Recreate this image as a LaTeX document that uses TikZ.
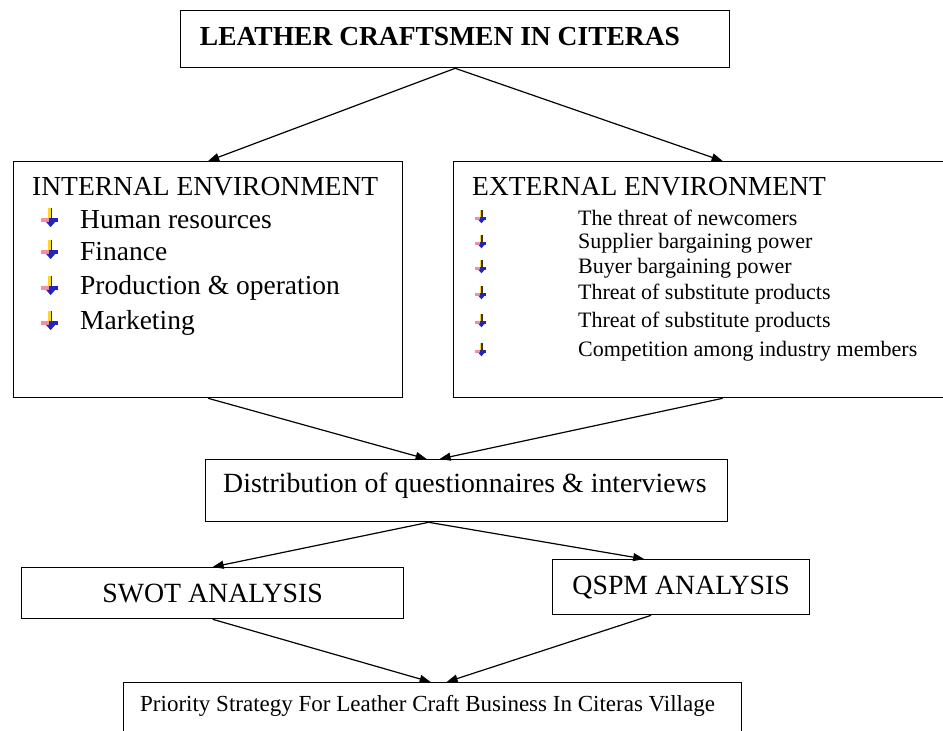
\documentclass[tikz,border=0pt]{standalone}
\usepackage{fontspec}
\setmainfont{Liberation Serif}
\usetikzlibrary{positioning, arrows.meta}
\definecolor{markyellow}{RGB}{250, 215, 40}
\definecolor{markred}{RGB}{240, 95, 110}
\definecolor{markblue}{RGB}{35, 35, 190}
\tikzset{
    flowbox/.style={draw, line width=1.3pt, inner sep=0pt, anchor=north west},
    flowarrow/.style={-{Triangle[length=11pt, width=8pt]}, line width=1.2pt},
    boxtext/.style={inner sep=0pt, font=\fontsize{27.8}{28}\selectfont},
    listtext/.style={anchor=west, inner sep=0pt, font=\fontsize{27.5}{28}\selectfont},
    smalltext/.style={anchor=west, inner sep=0pt, font=\fontsize{22}{22}\selectfont},
    listmark/.pic={
        \fill[markred!70] (-7,0) rectangle (-1,3);
        \fill[markblue] (-1,0) rectangle (6,3);
        \fill[markblue] (-3,3) -- (4,3) -- (0.5,7) -- cycle;
        \fill[markyellow] (-1.5,-8) rectangle (0.5,0);
        \fill[black!80] (0.5,-8) rectangle (1.8,1);
    }
}

\begin{document}
\begin{tikzpicture}[x=1pt, y=-1pt]
    \useasboundingbox (0,0) rectangle (943,731);
    % boxes
    \node[flowbox, minimum width=549pt, minimum height=57pt] (top) at (180,10) {};
    \node[flowbox, minimum width=389pt, minimum height=236pt] (internal) at (13,161) {};
    \node[flowbox, minimum width=538pt, minimum height=236pt] (external) at (453,161) {};
    \node[flowbox, minimum width=522pt, minimum height=62pt] (dist) at (205,459) {};
    \node[flowbox, minimum width=382pt, minimum height=51pt] (swot) at (21,567) {};
    \node[flowbox, minimum width=257pt, minimum height=55pt] (qspm) at (552,559) {};
    \node[flowbox, minimum width=618pt, minimum height=65pt] (priority) at (123,682) {};

    % texts
    \node[boxtext, font=\fontsize{27.5}{28}\selectfont\bfseries] (toptext) at (440,37) {LEATHER CRAFTSMEN IN CITERAS};
    \node[listtext] (inttitle) at (32,187) {INTERNAL ENVIRONMENT};
    \node[listtext] (exttitle) at (472,187) {EXTERNAL ENVIRONMENT};
    \node[listtext] (int1) at (80,220) {Human resources};
    \node[listtext] (int2) at (80,252) {Finance};
    \node[listtext] (int3) at (80,288) {Production \& operation};
    \node[listtext] (int4) at (80,323) {Marketing};
    \foreach \y in {218,250,286,321}
        \pic[scale=1.3] at (50,\y) {listmark};
    \node[smalltext] (ext1) at (578,218) {The threat  of newcomers};
    \node[smalltext] (ext2) at (578,243) {Supplier bargaining power};
    \node[smalltext] (ext3) at (578,268) {Buyer bargaining power};
    \node[smalltext] (ext4) at (578,294) {Threat of substitute products};
    \node[smalltext] (ext5) at (578,322) {Threat of substitute products};
    \node[smalltext] (ext6) at (578,351) {Competition among industry members};
    \foreach \y in {217,242,267,293,321,350}
        \pic[scale=0.9] at (481,\y) {listmark};
    \node[boxtext, anchor=west] (disttext) at (223,486) {Distribution of questionnaires \& interviews};
    \node[boxtext] (swottext) at (swot.center) {SWOT ANALYSIS};
    \node[boxtext] (qspmtext) at (qspm.center) {QSPM ANALYSIS};
    \node[smalltext, font=\fontsize{23}{23}\selectfont] (prioritytext) at (140,706) {Priority Strategy For Leather  Craft Business In Citeras Village};

    % arrows
    \draw[flowarrow] (top.south) -- (internal.north);
    \draw[flowarrow] (top.south) -- (external.north);
    \draw[flowarrow] (internal.south) -- ([xshift=-40pt]dist.north);
    \draw[flowarrow] (external.south) -- ([xshift=-27pt]dist.north);
    \draw[flowarrow] ([xshift=-38pt]dist.south) -- (swot.north);
    \draw[flowarrow] ([xshift=-38pt]dist.south) -- ([xshift=-37pt]qspm.north);
    \draw[flowarrow] (swot.south) -- ([xshift=-2pt]priority.north);
    \draw[flowarrow] ([xshift=-30pt]qspm.south) -- ([xshift=14pt]priority.north);
\end{tikzpicture}
\end{document}
